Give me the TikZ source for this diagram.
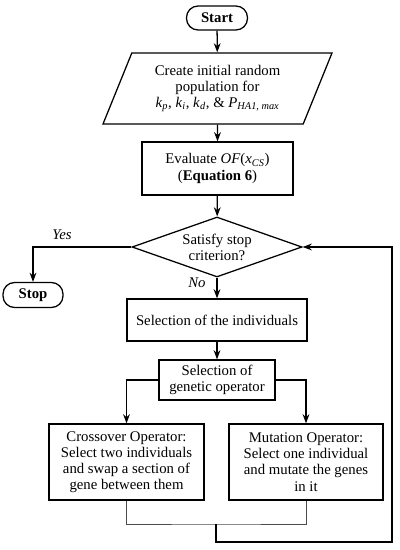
\documentclass[tikz,border=0pt]{standalone}
\usepackage{amsmath,amssymb}
\usepackage{fontspec}
\setmainfont{Liberation Serif}
\usepackage{tikz}
\usetikzlibrary{arrows.meta, shapes.geometric, positioning, calc}
\newcommand{\itsub}[2]{\textit{#1}\textsubscript{\textit{#2}}}

\begin{document}
\begin{tikzpicture}[
        font=\fontsize{10.5}{11.5}\selectfont,
        terminal/.style={draw,line width=0.9pt,rounded corners=0.29cm,
                         font=\fontsize{10.5}{11.5}\selectfont\bfseries,
                         minimum width=1.525cm,minimum height=0.6cm},
        iobox/.style={draw,line width=0.9pt,shape=trapezium,trapezium left angle=60,
                      trapezium right angle=120,trapezium stretches body,
                      minimum width=5.725cm,minimum height=1.775cm,align=center,inner sep=1pt},
        process/.style={draw,line width=0.9pt,align=center,inner sep=2pt},
        decision/.style={draw,line width=0.9pt,shape=diamond,align=center,inner sep=0pt,
                         aspect=2.8,minimum width=4.25cm,minimum height=1.5cm},
        flow/.style={draw,line width=0.9pt,-{Stealth[length=2.3mm,width=1.7mm]}},
        merge/.style={draw=black!70,line width=0.5pt},
        answer/.style={font=\fontsize{10.5}{11.5}\selectfont\itshape}
      ]
        \useasboundingbox (0,0) rectangle (10,-13.75);
        \node[terminal] (start) at (5.425,-0.45) {Start};
        \node[iobox] (init) at (5.4375,-2.2125)
          {Create initial random\\population for\\\itsub{k}{p}, \itsub{k}{i}, \itsub{k}{d}, \& \itsub{P}{HA1, max}};
        \node[process,minimum width=3.775cm,minimum height=1.325cm] (eval) at (5.4375,-4.2125)
          {Evaluate \textit{OF}(\itsub{x}{CS})\\(\textbf{Equation 6})};
        \node[decision] (crit) at (5.425,-6.175) {Satisfy stop\\criterion?};
        \node[terminal,minimum width=1.5cm,minimum height=0.625cm] (stop) at (0.825,-7.375) {Stop};
        \node[process,minimum width=4.5cm,minimum height=1.05cm] (select) at (5.425,-8.0)
          {Selection of the individuals};
        \node[process,minimum width=2.9cm,minimum height=1.0cm] (genop) at (5.425,-9.5)
          {Selection of\\genetic operator};
        \node[process,minimum width=3.875cm,minimum height=1.9cm] (cross) at (3.1625,-11.55)
          {Crossover Operator:\\Select two individuals\\and swap a section of\\gene between them};
        \node[process,minimum width=3.85cm,minimum height=1.9cm] (mut) at (7.65,-11.55)
          {Mutation Operator:\\Select one individual\\and mutate the genes\\in it};
        \node[answer] (yes) at (1.55,-5.875) {Yes};
        \node[answer] (no) at (4.925,-7.075) {No};
        \coordinate (merge) at (5.4,-13.1);
        \coordinate (loop) at (9.8,-13.55);
        \draw[flow] (start) -- (init);
        \draw[flow] (init) -- (eval);
        \draw[flow] (eval) -- (crit);
        \draw[flow] (crit.west) -| (stop.north);
        \draw[flow] (crit.south) -- (select.north);
        \draw[flow] (select) -- (genop);
        \draw[flow] (genop.west) -| (cross.north);
        \draw[flow] (genop.east) -| (mut.north);
        % both operators join and go back to the stop test
        \draw[merge] (cross.south) |- (merge) -| (mut.south);
        \draw[flow] (merge) -- (merge |- loop) -- (loop) |- (crit.east);
      \end{tikzpicture}
\end{document}
